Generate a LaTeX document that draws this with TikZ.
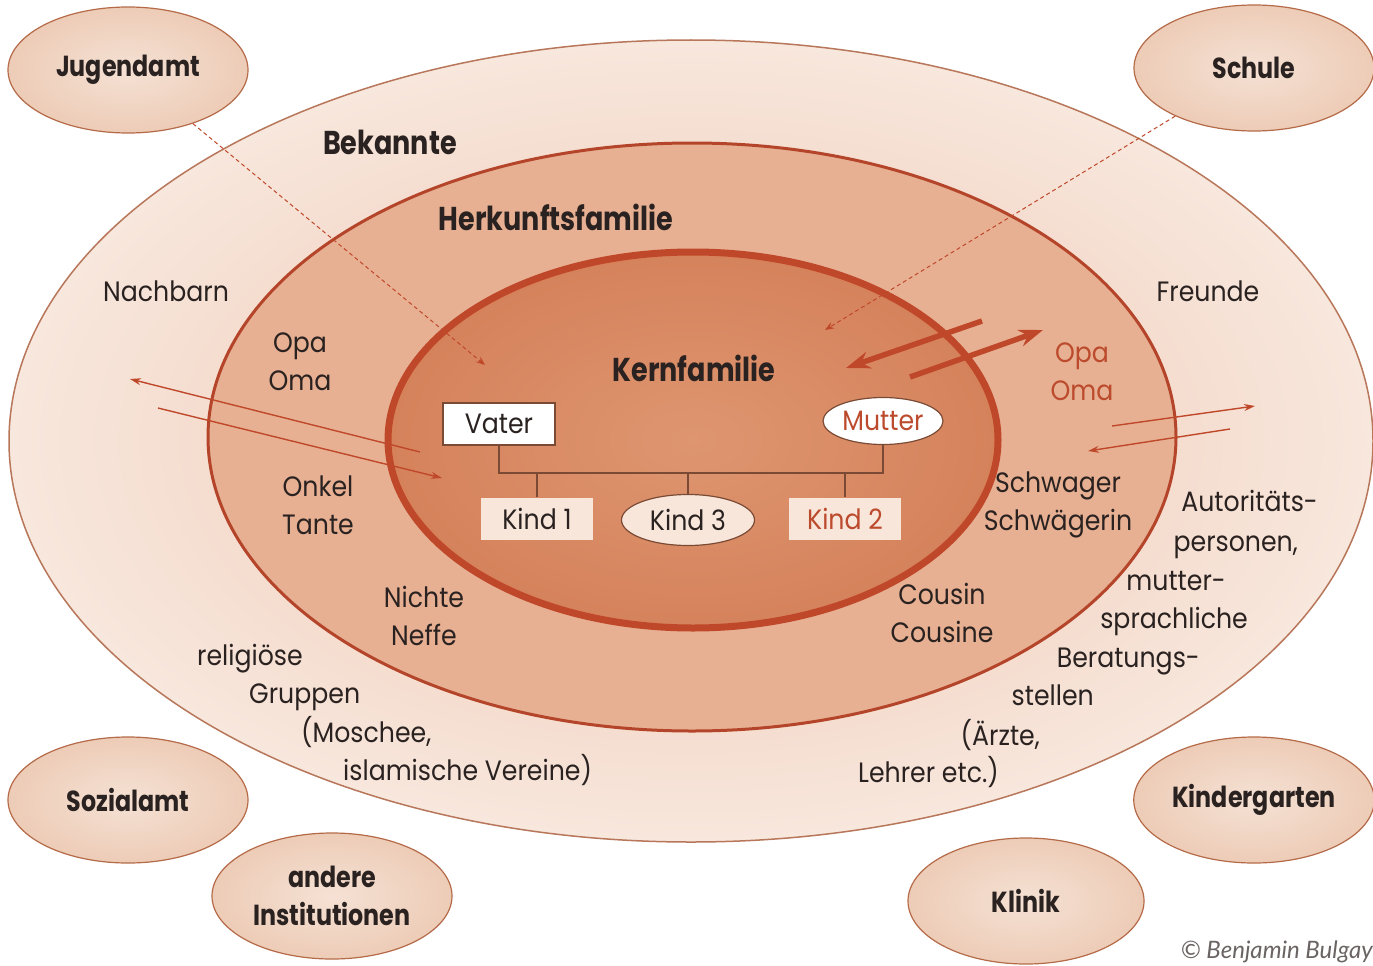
\documentclass[tikz,border=0pt]{standalone}
\usepackage{fontspec}
\setmainfont{Poppins}[FakeStretch=0.9]
\newfontfamily\titlefont{Poppins}[FakeStretch=0.82]
\newfontfamily\notefont{Lato}
\usetikzlibrary{arrows.meta,shapes.geometric}

\definecolor{txt}{HTML}{2A2220}
\definecolor{redtxt}{HTML}{BC4A2C}
\definecolor{arrowc}{HTML}{C0482A}
\definecolor{bekline}{HTML}{B8775A}
\definecolor{bekin}{HTML}{ECC5AE}
\definecolor{bekout}{HTML}{F8E7DD}
\definecolor{herkline}{HTML}{B5452A}
\definecolor{herkfill}{HTML}{E7B093}
\definecolor{kernline}{HTML}{C0482A}
\definecolor{kernin}{HTML}{DE9670}
\definecolor{kernout}{HTML}{D5825B}
\definecolor{instline}{HTML}{B56A48}
\definecolor{instin}{HTML}{F5E1D4}
\definecolor{instout}{HTML}{EDCCB7}
\definecolor{kidfill}{HTML}{F8E6DA}
\definecolor{treeline}{HTML}{7A4A35}

\tikzset{
  ring/.style={ellipse, inner sep=0pt},
  inst/.style={ellipse, draw=instline, line width=1.2pt, inner color=instin,
    outer color=instout, minimum width=240, minimum height=126, align=center,
    text=txt, font=\titlefont\bfseries\fontsize{29}{38}\selectfont},
  ttl/.style={text=txt, inner sep=0pt, font=\titlefont\bfseries\fontsize{33}{36}\selectfont},
  lbl/.style={text=txt, inner sep=0pt, align=center, font=\fontsize{28}{38}\selectfont},
  person/.style={draw=treeline, line width=1.2pt, text=txt, inner sep=0pt,
    minimum height=42, font=\fontsize{28}{30}\selectfont},
  tree/.style={draw=treeline, line width=1.1pt},
  link/.style={draw=arrowc, line width=1pt, dash pattern=on 4pt off 3pt,
    -{Stealth[length=9pt,width=7pt]}},
  thin/.style={draw=arrowc, line width=1.4pt, -{Stealth[length=11pt,width=7pt]}},
  thick/.style={draw=arrowc, line width=5.5pt, -{Stealth[length=24pt,width=17pt]}}
}

\begin{document}
\begin{tikzpicture}[x=1pt, y=-1pt]
  \useasboundingbox[fill=white] (0,0) rectangle (1373,966);

  % the three circles
  \node[ring, draw=bekline, line width=1.5pt, inner color=bekin, outer color=bekout,
    minimum width=1364, minimum height=802] (bek) at (691,441) {};
  \node[ring, draw=herkline, line width=3pt, fill=herkfill,
    minimum width=968, minimum height=588] (herk) at (692,437) {};
  \node[ring, draw=kernline, line width=7pt, inner color=kernin, outer color=kernout,
    minimum width=610, minimum height=376] (kern) at (693,440) {};

  \node[ttl] (bektitle) at (390,142) {Bekannte};
  \node[ttl] (herktitle) at (556,217) {Herkunftsfamilie};
  \node[ttl] (kerntitle) at (694,368) {Kernfamilie};

  % institutions outside
  \node[inst] (jugend) at (128,70) {Jugendamt};
  \node[inst] (schule) at (1254,68) {Schule};
  \node[inst] (sozial) at (128,800) {Sozialamt};
  \node[inst] (andere) at (332,896) {andere\\Institutionen};
  \node[inst] (kiga) at (1254,800) {Kindergarten};
  \node[inst, minimum width=236] (klinik) at (1026,901) {Klinik};

  % family tree
  \node[person, fill=white, minimum width=112] (vater) at (499,424) {Vater};
  \node[person, ellipse, fill=white, text=redtxt, minimum width=120, minimum height=47]
    (mutter) at (883,421) {Mutter};
  \node[person, draw=none, fill=kidfill, minimum width=112] (kind1) at (537,519) {Kind 1};
  \node[person, ellipse, fill=kidfill, minimum width=133, minimum height=51]
    (kind3) at (688,520) {Kind 3};
  \node[person, draw=none, fill=kidfill, text=redtxt, minimum width=112]
    (kind2) at (845,519) {Kind 2};
  \coordinate (bus) at (690,473);

  \draw[tree] (vater.south) |- (bus) -| (mutter.south);
  \draw[tree] (kind1.north) -- (kind1.north |- bus);
  \draw[tree] (kind3.north) -- (kind3.north |- bus);
  \draw[tree] (kind2.north) -- (kind2.north |- bus);

  % labels, left side
  \node[lbl] (nachbarn) at (166,291) {Nachbarn};
  \node[lbl] (opaL) at (300,362) {Opa\\Oma};
  \node[lbl] (onkel) at (318,505) {Onkel\\Tante};
  \node[lbl] (nichte) at (424,616) {Nichte\\Neffe};
  \node[lbl, anchor=base west] (rel1) at (197,665) {religiöse};
  \node[lbl, anchor=base west] (rel2) at (249,703) {Gruppen};
  \node[lbl, anchor=base west] (rel3) at (301,742) {(Moschee,};
  \node[lbl, anchor=base west] (rel4) at (343,780) {islamische Vereine)};

  % labels, right side
  \node[lbl] (freunde) at (1208,291) {Freunde};
  \node[lbl, text=redtxt] (opaR) at (1082,372) {Opa\\Oma};
  \node[lbl] (schwager) at (1058,505) {Schwager\\Schwägerin};
  \node[lbl] (cousin) at (942,613) {Cousin\\Cousine};
  \node[lbl, anchor=base east] (aut1) at (1318,511) {Autoritäts-};
  \node[lbl, anchor=base east] (aut2) at (1298,551) {personen,};
  \node[lbl, anchor=base east] (aut3) at (1226,590) {mutter-};
  \node[lbl, anchor=base east] (aut4) at (1248,628) {sprachliche};
  \node[lbl, anchor=base east] (aut5) at (1200,667) {Beratungs-};
  \node[lbl, anchor=base east] (aut6) at (1094,705) {stellen};
  \node[lbl, anchor=base east] (aut7) at (1040,745) {(Ärzte,};
  \node[lbl, anchor=base east] (aut8) at (999,782) {Lehrer etc.)};

  % arrows
  \coordinate (jugendend) at (485,365);
  \coordinate (schuleend) at (825,330);
  \draw[link] (jugend) -- (jugendend);
  \draw[link] (schule) -- (schuleend);

  \coordinate (in1a) at (982,321);
  \coordinate (in1b) at (846,368);
  \coordinate (out1a) at (910,377);
  \coordinate (out1b) at (1043,330);
  \draw[thick] (in1a) -- (in1b);
  \draw[thick] (out1a) -- (out1b);

  \coordinate (outRa) at (1112,426);
  \coordinate (outRb) at (1255,406);
  \coordinate (inRa) at (1230,429);
  \coordinate (inRb) at (1088,451);
  \draw[thin] (outRa) -- (outRb);
  \draw[thin] (inRa) -- (inRb);

  \coordinate (outLa) at (420,452);
  \coordinate (outLb) at (130,379);
  \coordinate (inLa) at (158,408);
  \coordinate (inLb) at (442,478);
  \draw[thin] (outLa) -- (outLb);
  \draw[thin] (inLa) -- (inLb);

  \node[text=txt!70, anchor=east, inner sep=0pt, font=\notefont\itshape\fontsize{24}{26}\selectfont]
    (copy) at (1373,952) {© Benjamin Bulgay};
\end{tikzpicture}
\end{document}
